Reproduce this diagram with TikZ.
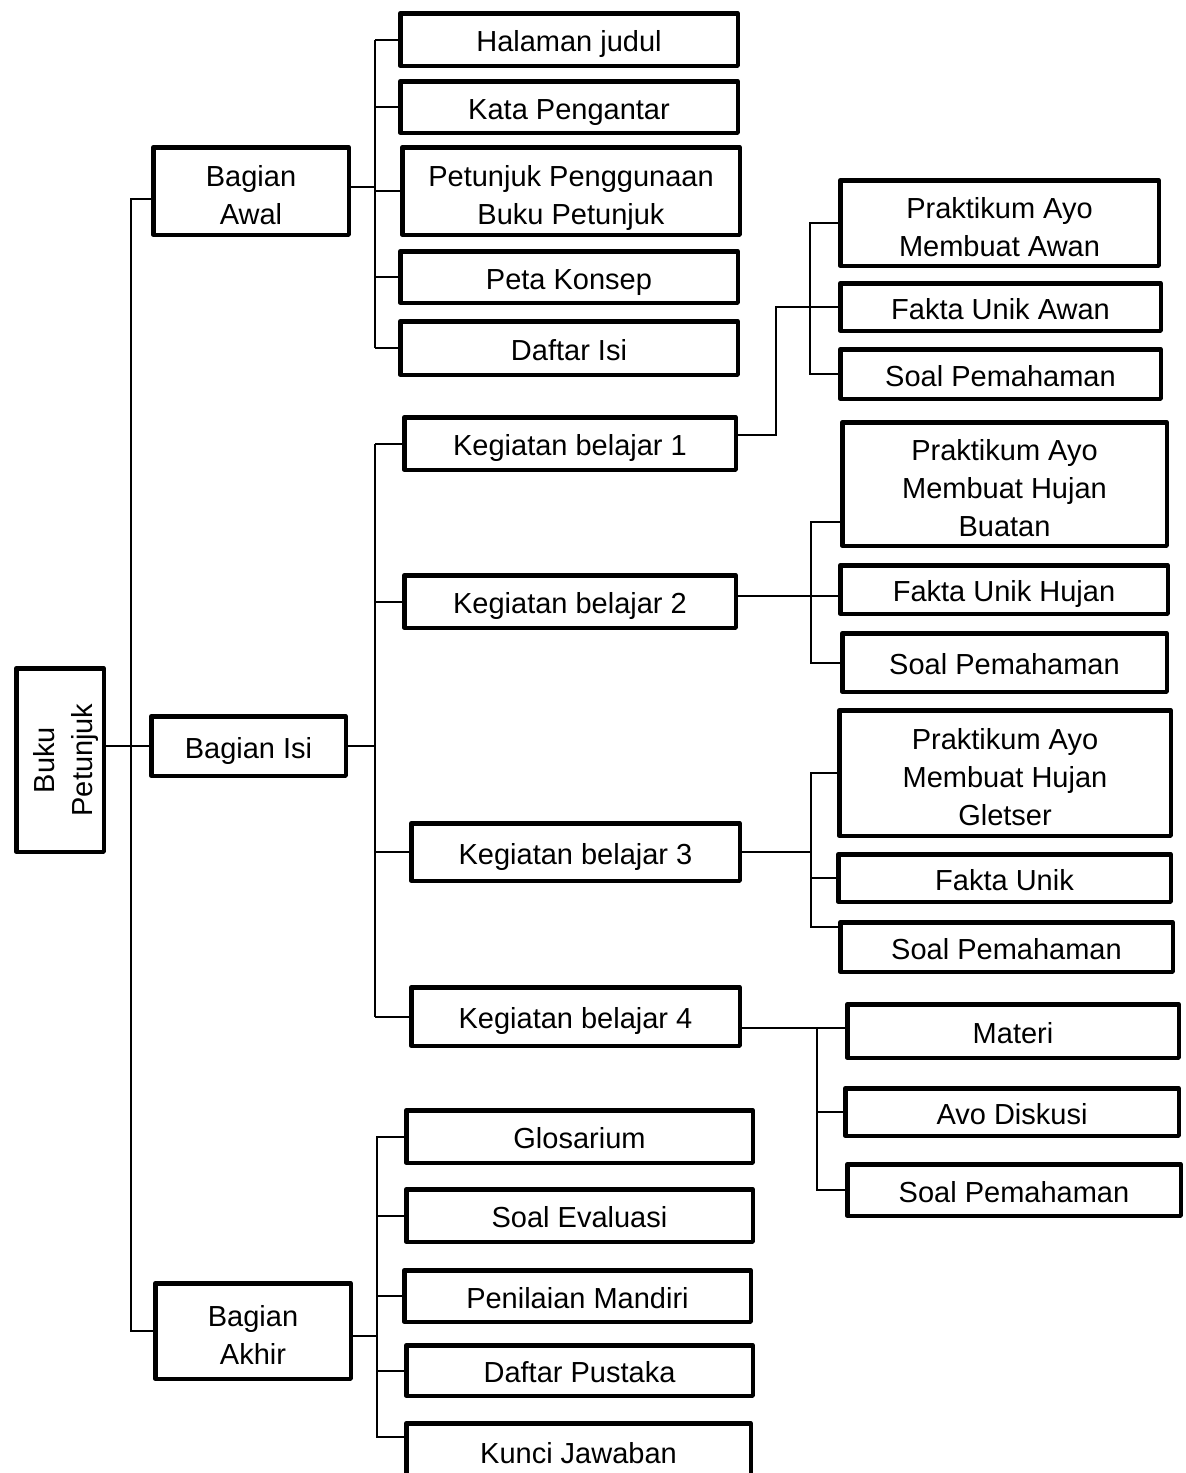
\documentclass[tikz,border=0pt]{standalone}
\usepackage{fontspec}
\setmainfont{Liberation Sans}
\newcommand\boxtext[2]{\raisebox{#1}[\height][\depth]{\begin{tabular}{@{}c@{}}#2\end{tabular}}}
\newcommand\mkbox[7][-4.5pt]{\node[box, minimum width={#5-#3-4.5}, minimum height={#6-#4-4.5}] (#2) at ({(#3+#5)/2},{(#4+#6)/2}) {\boxtext{#1}{#7}};}
\begin{document}
\begin{tikzpicture}[x=1pt,y=-1pt,
  box/.style={draw, line width=4.5pt, line join=round, inner sep=0pt, fill=white, font=\fontsize{29}{38}\selectfont},
  conn/.style={draw, line width=2pt}]
\useasboundingbox (0,0) rectangle (1186,1473);
\clip (0,0) rectangle (1186,1473);
\fill[white] (0,0) rectangle (1186,1473);

% boxes
\node[box, rotate=90, minimum width=183.5, minimum height=87.5] (buku) at (60,760) {\boxtext{-6pt}{Buku\\Petunjuk}};
\mkbox[-7pt]{awal}{151}{145}{351}{237}{Bagian\\Awal}
\mkbox{isi}{149}{714}{348}{778}{Bagian Isi}
\mkbox[-7pt]{akhir}{153}{1281}{353}{1381}{Bagian\\Akhir}
\mkbox{hal}{398}{11}{740}{68}{Halaman judul}
\mkbox{kata}{398}{79}{740}{135}{Kata Pengantar}
\mkbox[-7pt]{pet}{400}{145}{742}{237}{Petunjuk Penggunaan\\Buku Petunjuk}
\mkbox{peta}{398}{249}{740}{305}{Peta Konsep}
\mkbox{dis}{398}{319}{740}{377}{Daftar Isi}
\mkbox{kbA}{402}{415}{738}{472}{Kegiatan belajar 1}
\mkbox{kbB}{402}{573}{738}{630}{Kegiatan belajar 2}
\mkbox{kbC}{409}{821}{742}{883}{Kegiatan belajar 3}
\mkbox{kbD}{409}{985}{742}{1048}{Kegiatan belajar 4}
\mkbox[-7pt]{aA}{838}{178}{1161}{268}{Praktikum Ayo\\Membuat Awan}
\mkbox{aB}{838}{281}{1163}{333}{Fakta Unik Awan}
\mkbox{aC}{838}{347}{1163}{401}{Soal Pemahaman}
\mkbox[-7pt]{bA}{840}{420}{1169}{548}{Praktikum Ayo\\Membuat Hujan\\Buatan}
\mkbox{bB}{838}{563}{1170}{616}{Fakta Unik Hujan}
\mkbox{bC}{840}{631}{1169}{694}{Soal Pemahaman}
\mkbox[-7pt]{cA}{837}{708}{1173}{838}{Praktikum Ayo\\Membuat Hujan\\Gletser}
\mkbox{cB}{836}{852}{1173}{904}{Fakta Unik}
\mkbox{cC}{838}{920}{1175}{974}{Soal Pemahaman}
\mkbox{dA}{845}{1002}{1181}{1060}{Materi}
\mkbox{dB}{843}{1086}{1181}{1138}{Avo Diskusi}
\mkbox{dC}{845}{1162}{1183}{1218}{Soal Pemahaman}
\mkbox{eA}{404}{1108}{755}{1165}{Glosarium}
\mkbox{eB}{404}{1187}{755}{1244}{Soal Evaluasi}
\mkbox{eC}{402}{1268}{753}{1324}{Penilaian Mandiri}
\mkbox{eD}{404}{1343}{755}{1398}{Daftar Pustaka}
\mkbox{eE}{404}{1421}{753}{1481}{Kunci Jawaban}

% trunk
\coordinate (tx) at (131,0);
\draw[conn] (buku.south |- isi.west) -- (isi.west);
\draw[conn] ([yshift=-8pt]awal.west) -| (tx |- akhir.west) -- (akhir.west);

% Bagian Awal
\coordinate (sa) at (375,0);
\draw[conn] ([yshift=4pt]awal.east) -- ++(24,0);
\draw[conn] (sa |- hal.west) -- (sa |- dis.west);
\foreach \n in {hal,kata,pet,peta,dis} \draw[conn] (sa |- \n.west) -- (\n.west);

% Bagian Isi
\coordinate (sb) at (375,0);
\draw[conn] (isi.east) -- (isi.east -| sb);
\draw[conn] (sb |- kbA.west) -- (sb |- kbD.west);
\foreach \n in {kbA,kbB,kbC,kbD} \draw[conn] (sb |- \n.west) -- (\n.west);

% KB1
\coordinate (ka) at (776,0);
\coordinate (kaa) at (810,0);
\draw[conn] ([yshift=9pt]kbA.east) -| (ka |- aB.west) -- (aB.west);
\draw[conn] (aA.west) -| (kaa |- aC.west) -- (aC.west);

% KB2
\coordinate (kb) at (811,0);
\coordinate (kBo) at ([yshift=6pt]kbB.east);
\draw[conn] (kBo) -- (kBo -| bB.west);
\coordinate (bAi) at ([yshift=-38pt]bA.west);
\draw[conn] (bAi) -| (kb |- bC.west) -- (bC.west);

% KB3
\coordinate (kc) at (811,0);
\draw[conn] (kbC.east) -- (kbC.east -| kc);
\coordinate (cCi) at ([yshift=20pt]cC.west);
\draw[conn] (cA.west) -| (kc |- cCi) -- (cCi);
\draw[conn] (kc |- cB.west) -- (cB.west);

% KB4
\coordinate (kd) at (817,0);
\coordinate (kDo) at ([yshift=-11.5pt]kbD.east);
\draw[conn] (kDo) -- (kDo -| dA.west);
\draw[conn] (kd |- kDo) |- (dC.west);
\draw[conn] (kd |- dB.west) -- (dB.west);

% Bagian Akhir
\coordinate (se) at (377,0);
\draw[conn] ([yshift=-5pt]akhir.east) -- ++(24,0);
\coordinate (eEi) at ([yshift=14pt]eE.west);
\draw[conn] (eA.west) -| (se |- eEi) -- (eEi);
\foreach \n in {eB,eC,eD} \draw[conn] (se |- \n.west) -- (\n.west);
\end{tikzpicture}
\end{document}
